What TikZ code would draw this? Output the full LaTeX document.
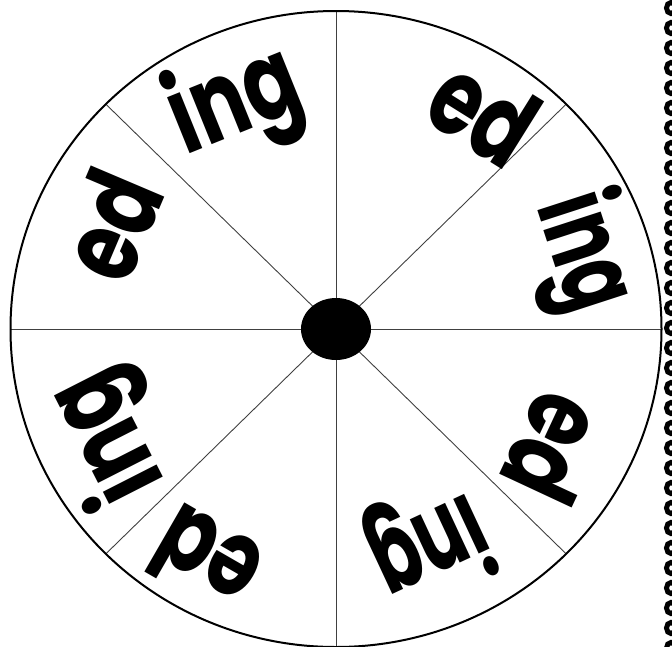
\documentclass[tikz,border=0pt]{standalone}
\usepackage{fontspec}
\setmainfont{Poppins}
\usetikzlibrary{calc}
\begin{document}
\begin{tikzpicture}[x=1pt,y=-1pt,
  spoke/.style={draw=black!75, line width=0.9pt},
  rim/.style={draw=black, line width=2pt},
  word/.style={font=\fontsize{108}{108}\selectfont\bfseries, inner sep=0pt, text=black, xscale=0.74},
  narrowword/.style={font=\fontsize{108}{108}\selectfont\bfseries, inner sep=0pt, text=black, xscale=0.65},
  loopmark/.style={draw=black, line width=5pt}]
\useasboundingbox (0,0) rectangle (672,646);
\coordinate (c) at (336,329);
\foreach \a/\n in {0/r0,45/r1,90/r2,135/r3,180/r4,225/r5,270/r6,315/r7}{
  \coordinate (\n) at ($(336,329)+({325.5*cos(\a)},{-318*sin(\a)})$);
}
\foreach \n in {r0,r1,r2,r3,r4,r5,r6,r7}{
  \draw[spoke] (c) -- (\n);
}
\draw[rim] (c) ellipse [x radius=325.5pt, y radius=318pt];
\fill[black] (c) ellipse [x radius=35pt, y radius=31pt];
\node[rotate=22, word]         (w1) at (236,104) {ing};
\node[rotate=-32, word]        (w2) at (484,111) {ed};
\node[rotate=-72, narrowword]  (w3) at (581,253) {ing};
\node[rotate=-115, word]       (w4) at (555,448) {ed};
\node[rotate=-155, narrowword] (w5) at (428,543) {ing};
\node[rotate=150, word]        (w6) at (206,560) {ed};
\node[rotate=117, word]        (w7) at (110,436) {ing};
\node[rotate=67, word]         (w8) at (110,225) {ed};
\foreach \k in {0,...,32}{
  \draw[loopmark] (671,{8+20*\k}) ellipse [x radius=4.5pt, y radius=5.5pt];
}
\end{tikzpicture}
\end{document}
